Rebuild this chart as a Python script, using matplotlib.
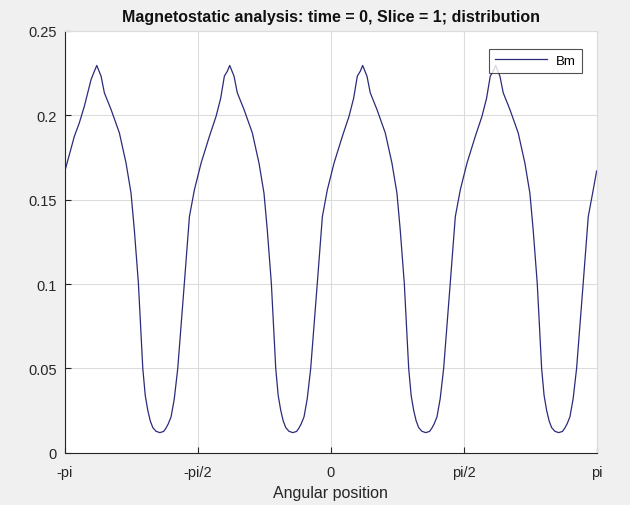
import numpy as np
import matplotlib
matplotlib.use('Agg')
import matplotlib.pyplot as plt

# Angular position (rad) and flux density along the air gap
angle = [
    -3.1416, -3.030, -2.971, -2.912, -2.832, -2.793, -2.765,
    -2.714, -2.675, -2.596, -2.498, -2.419, -2.360, -2.321, -2.273, -2.221, -2.192,
    -2.162, -2.133, -2.103, -2.065, -2.020, -1.975, -1.949, -1.920, -1.887, -1.849,
    -1.808, -1.730, -1.670, -1.611, -1.532, -1.434, -1.355, -1.301, -1.257, -1.222, -1.194,
    -1.143, -1.104, -1.025, -0.927, -0.848, -0.789, -0.750, -0.702, -0.650, -0.621,
    -0.591, -0.562, -0.532, -0.494, -0.449, -0.404, -0.378, -0.349, -0.316, -0.278,
    -0.237, -0.159, -0.099, -0.040, 0.039, 0.137, 0.216, 0.270, 0.314, 0.349, 0.377,
    0.428, 0.467, 0.546, 0.644, 0.723, 0.782, 0.821, 0.869, 0.921, 0.950,
    0.980, 1.009, 1.039, 1.077, 1.122, 1.167, 1.193, 1.222, 1.255, 1.293,
    1.334, 1.412, 1.472, 1.531, 1.610, 1.708, 1.787, 1.841, 1.885, 1.920, 1.948,
    1.999, 2.038, 2.117, 2.215, 2.294, 2.353, 2.392, 2.440, 2.492, 2.521,
    2.551, 2.580, 2.610, 2.648, 2.693, 2.738, 2.764, 2.793, 2.826, 2.864,
    2.905, 2.983, 3.043, 3.102, 3.1416,
]
Bm = [
    0.1670, 0.1875, 0.1955, 0.2053, 0.2212, 0.2261, 0.2295,
    0.2232, 0.2133, 0.2034, 0.1896, 0.1717, 0.1539, 0.1321, 0.1005, 0.0500, 0.0340,
    0.0252, 0.0190, 0.0150, 0.0128, 0.0120, 0.0127, 0.0145, 0.0172, 0.0213, 0.0320,
    0.0500, 0.1005, 0.1400, 0.1559, 0.1717, 0.1875, 0.1994, 0.2100, 0.2232, 0.2261, 0.2295,
    0.2232, 0.2133, 0.2034, 0.1896, 0.1717, 0.1539, 0.1321, 0.1005, 0.0500, 0.0340,
    0.0252, 0.0190, 0.0150, 0.0128, 0.0120, 0.0127, 0.0145, 0.0172, 0.0213, 0.0320,
    0.0500, 0.1005, 0.1400, 0.1559, 0.1717, 0.1875, 0.1994, 0.2100, 0.2232, 0.2261, 0.2295,
    0.2232, 0.2133, 0.2034, 0.1896, 0.1717, 0.1539, 0.1321, 0.1005, 0.0500, 0.0340,
    0.0252, 0.0190, 0.0150, 0.0128, 0.0120, 0.0127, 0.0145, 0.0172, 0.0213, 0.0320,
    0.0500, 0.1005, 0.1400, 0.1559, 0.1717, 0.1875, 0.1994, 0.2100, 0.2232, 0.2261, 0.2295,
    0.2232, 0.2133, 0.2034, 0.1896, 0.1717, 0.1539, 0.1321, 0.1005, 0.0500, 0.0340,
    0.0252, 0.0190, 0.0150, 0.0128, 0.0120, 0.0127, 0.0145, 0.0172, 0.0213, 0.0320,
    0.0500, 0.1005, 0.1400, 0.1559, 0.1670,
]

x_ticks = [-np.pi, -np.pi / 2, 0, np.pi / 2, np.pi]
x_tick_labels = ['-pi', '-pi/2', '0', 'pi/2', 'pi']
y_ticks = [0, 0.05, 0.1, 0.15, 0.2, 0.25]
y_tick_labels = ['0', '0.05', '0.1', '0.15', '0.2', '0.25']

plt.rcParams['font.family'] = ['Liberation Sans', 'DejaVu Sans']

fig = plt.figure(figsize=(6.3, 5.06), dpi=100, facecolor='#f0f0f0')
ax = fig.add_axes([0.103, 0.103, 0.844, 0.834], facecolor='white')

ax.plot(angle, Bm, color='#2b2b7a', linewidth=0.9, label='Bm')

ax.set_xlim(-np.pi, np.pi)
ax.set_ylim(0, 0.25)
ax.set_xticks(x_ticks)
ax.set_xticklabels(x_tick_labels)
ax.set_yticks(y_ticks)
ax.set_yticklabels(y_tick_labels)

ax.grid(True, color='#dcdcdc', linewidth=0.8)
ax.set_axisbelow(True)
ax.tick_params(direction='in', length=4, width=0.8, colors='#262626',
               labelsize=10.5)
ax.tick_params(axis='y', pad=6)
ax.tick_params(axis='x', pad=9)
for side in ['left', 'bottom']:
    ax.spines[side].set_color('#262626')
    ax.spines[side].set_linewidth(0.8)
for side in ['top', 'right']:
    ax.spines[side].set_color('#dcdcdc')
    ax.spines[side].set_linewidth(0.8)

ax.set_title('Magnetostatic analysis: time = 0, Slice = 1; distribution',
             fontsize=11.5, fontweight='bold', color='#111111', pad=7)
ax.set_xlabel('Angular position', fontsize=11.5, color='#262626', labelpad=4)

leg = ax.legend(loc='upper right', bbox_to_anchor=(0.972, 0.958), fontsize=9.5,
                frameon=True, fancybox=False, handlelength=3.9,
                borderpad=0.45, handletextpad=0.7, borderaxespad=0)
leg.get_frame().set_edgecolor('#262626')
leg.get_frame().set_linewidth(0.8)

fig.savefig('out.png', dpi=100, facecolor=fig.get_facecolor())
